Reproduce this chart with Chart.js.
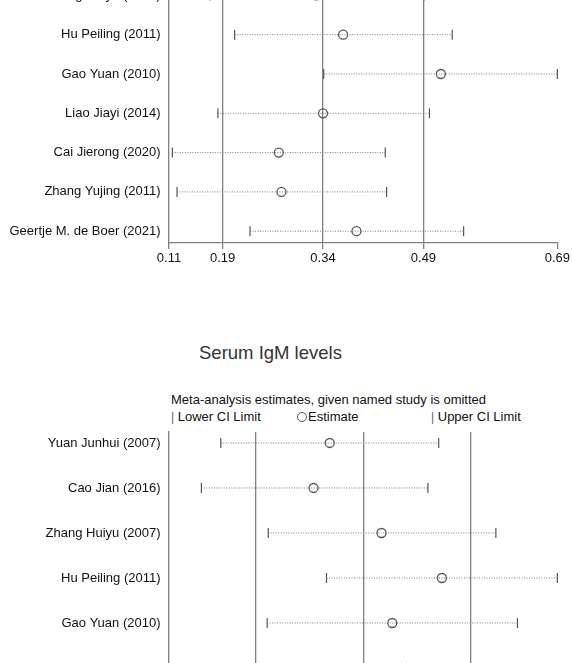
<!DOCTYPE html>
<html>
<head>
<meta charset="utf-8">
<script src="https://cdn.jsdelivr.net/npm/chart.js@4.4.1/dist/chart.umd.min.js"></script>
<style>
    html, body { margin: 0; padding: 0; background: #fff; width: 572px; height: 663px; overflow: hidden; }
    body { position: relative; font-family: "Liberation Sans", Arial, sans-serif; color: #111; }
    canvas { position: absolute; left: 0; }
    #topChart { top: -45px; }
    #igmChart { top: 400px; }
    .txt { position: absolute; white-space: nowrap; }
    #igm-title { left: 199px; top: 342px; font-size: 18.5px; line-height: 22px; color: #333; }
    #igm-sub { left: 171px; top: 392px; font-size: 13px; line-height: 15px; }
    .leg { top: 409px; font-size: 13px; line-height: 15px; }
    .bar { color: #666; font-size: 12px; }
    .ring { display: inline-block; width: 8px; height: 8px; border: 1px solid #555; border-radius: 50%; margin-right: 1px; vertical-align: -1px; }
</style>
</head>
<body>
<canvas id="topChart" width="572" height="318"></canvas>

<div class="txt" id="igm-title">Serum IgM levels</div>
<div class="txt" id="igm-sub">Meta-analysis estimates, given named study is omitted</div>
<div class="txt leg" style="left:171px;"><span class="bar">|</span> Lower CI Limit</div>
<div class="txt leg" style="left:297px;"><span class="ring"></span>Estimate</div>
<div class="txt leg" style="left:431px;"><span class="bar">|</span> Upper CI Limit</div>

<canvas id="igmChart" width="572" height="320"></canvas>

<script>
// ===== Data: biểu đồ trên (phần nhìn thấy) =====
const topStudies = ['Zhang Huiyu (2007)', 'Hu Peiling (2011)', 'Gao Yuan (2010)', 'Liao Jiayi (2014)',
    'Cai Jierong (2020)', 'Zhang Yujing (2011)', 'Geertje M. de Boer (2021)'];
const topLower    = [0.171, 0.208, 0.341, 0.183, 0.115, 0.122, 0.231];
const topEstimate = [0.330, 0.370, 0.516, 0.340, 0.274, 0.278, 0.390];
const topUpper    = [0.491, 0.533, 0.690, 0.499, 0.433, 0.435, 0.550];
const topTicks    = [0.11, 0.19, 0.34, 0.49, 0.69];

// ===== Data: Serum IgM levels =====
const igmStudies = ['Yuan Junhui (2007)', 'Cao Jian (2016)', 'Zhang Huiyu (2007)', 'Hu Peiling (2011)',
    'Gao Yuan (2010)', 'Liao Jiayi (2014)'];
const igmLower    = [0.068, 0.050, 0.112, 0.166, 0.111, 0.137];
const igmEstimate = [0.169, 0.154, 0.217, 0.273, 0.227, 0.240];
const igmUpper    = [0.270, 0.260, 0.323, 0.380, 0.343, 0.344];
const igmTicks    = [0.02, 0.10, 0.20, 0.30, 0.38];

Chart.defaults.font.family = '"Liberation Sans", Arial, sans-serif';
Chart.defaults.font.size = 13;
Chart.defaults.color = '#111';

function drawInfluenceChart(canvasId, studies, lower, estimate, upper, ticks, yMin, yMax, padTop) {
    const ctx = document.getElementById(canvasId);

    // mỗi nghiên cứu: 1 đoạn chấm chấm từ lower -> upper, 2 vạch ở đầu
    const ciSets = studies.map((name, i) => ({
        label: name,
        data: [{ x: lower[i], y: i }, { x: upper[i], y: i }],
        showLine: true,
        borderColor: '#7a7a7a',
        borderWidth: 1,
        borderDash: [1, 1.5],
        pointStyle: 'line',
        pointRotation: 90,
        pointRadius: 5,
        pointBorderColor: '#555',
        pointBorderWidth: 1.2,
        clip: false
    }));

    const estSet = {
        label: 'Estimate',
        data: estimate.map((v, i) => ({ x: v, y: i })),
        showLine: false,
        pointStyle: 'circle',
        pointRadius: 4.5,
        pointBorderColor: '#555',
        pointBackgroundColor: 'rgba(255,255,255,0)',
        pointBorderWidth: 1.3,
        clip: false
    };

    new Chart(ctx, {
        type: 'scatter',
        data: { datasets: [...ciSets, estSet] },
        options: {
            responsive: false,
            animation: false,
            events: [],
            layout: { padding: { top: padTop, right: 13.5, left: 0, bottom: 0 } },
            plugins: { legend: { display: false }, tooltip: { enabled: false } },
            scales: {
                x: {
                    type: 'linear',
                    min: ticks[0],
                    max: ticks[ticks.length - 1],
                    afterBuildTicks: s => { s.ticks = ticks.map(v => ({ value: v })); },
                    afterFit: s => { s.height = 30; },
                    border: { display: true, color: '#808080', width: 1.3 },
                    grid: {
                        // chỉ vẽ 3 đường dọc ở giữa
                        color: c => (c.index > 0 && c.index < ticks.length - 1) ? '#808080' : 'rgba(0,0,0,0)',
                        tickColor: '#808080',
                        lineWidth: 1.3,
                        tickLength: 6
                    },
                    ticks: {
                        autoSkip: false,
                        maxRotation: 0,
                        padding: 2,
                        color: '#111',
                        callback: v => v.toFixed(2)
                    }
                },
                y: {
                    type: 'linear',
                    reverse: true,
                    min: yMin,
                    max: yMax,
                    afterBuildTicks: s => { s.ticks = studies.map((_, i) => ({ value: i })); },
                    afterFit: s => { s.width = 169; },
                    border: { display: true, color: '#808080', width: 1.3 },
                    grid: { display: false, drawTicks: false },
                    ticks: {
                        padding: 8.5,
                        color: '#111',
                        callback: v => studies[v]
                    }
                }
            }
        }
    });
}

drawInfluenceChart('topChart', topStudies, topLower, topEstimate, topUpper, topTicks, -0.595, 6.30, 17);
drawInfluenceChart('igmChart', igmStudies, igmLower, igmEstimate, igmUpper, igmTicks, -0.244, 5.489, 32);
</script>
</body>
</html>
